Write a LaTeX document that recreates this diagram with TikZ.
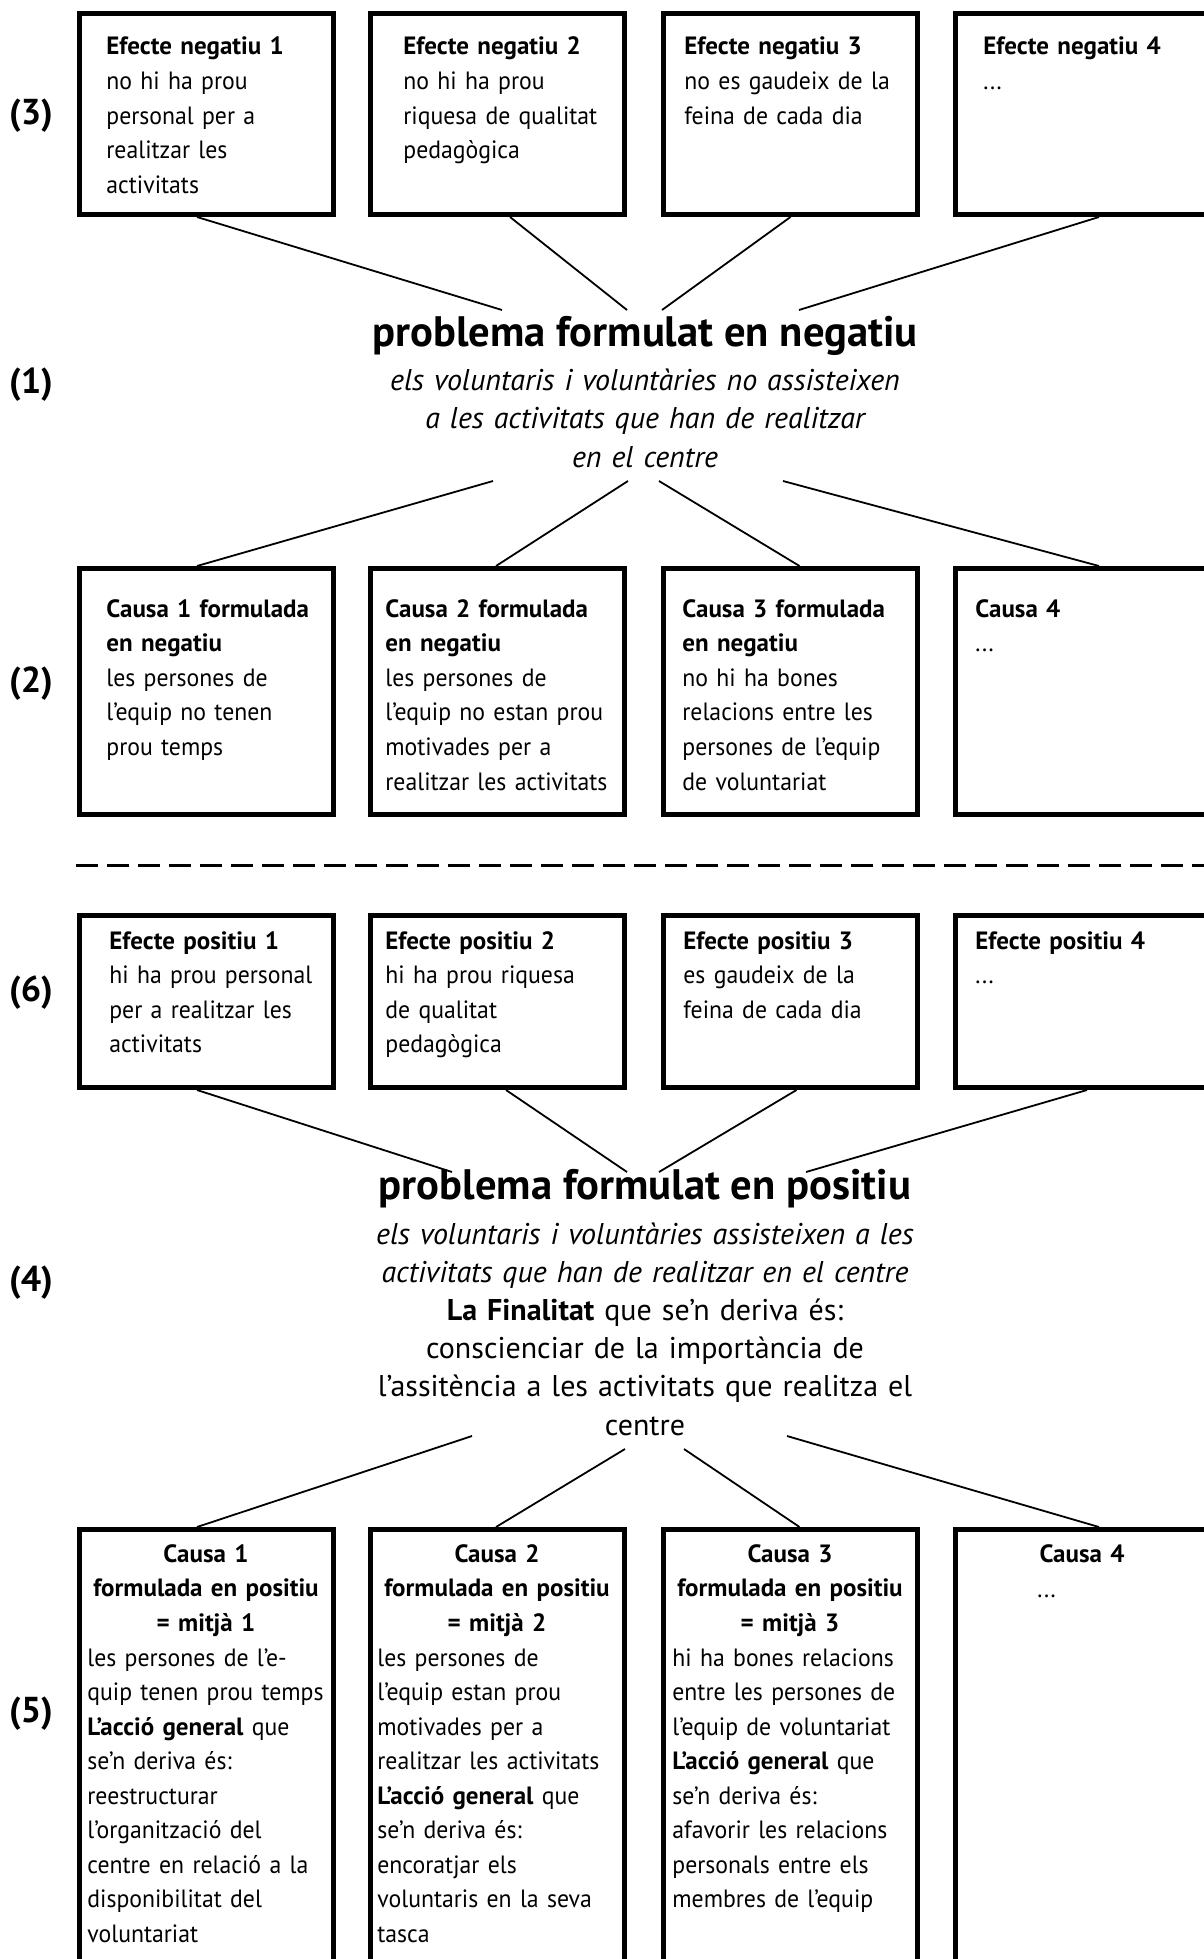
\documentclass[tikz,border=0pt]{standalone}
\usepackage{fontspec}
\setmainfont{PT Sans}
\newfontfamily\boxfont{PT Sans}[UprightFeatures={FakeStretch=0.95}]
\usetikzlibrary{positioning}

\begin{document}
\begin{tikzpicture}[x=0.5pt,y=-0.5pt,
  box/.style={draw,line width=2.5pt,anchor=north west,inner sep=0pt,minimum width=127pt},
  txt/.style={anchor=base west,inner sep=0pt,align=left,text width=150pt,font=\boxfont\fontsize{12.5}{17.3}\selectfont},
  head/.style={anchor=base,inner sep=0pt,align=center,text width=124pt,font=\boxfont\fontsize{12.5}{17.25}\selectfont\bfseries},
  num/.style={font=\fontsize{18}{21}\selectfont\bfseries},
  title/.style={anchor=base,inner sep=0pt,font=\fontsize{21.3}{25}\selectfont\bfseries},
  desc/.style={anchor=base,inner sep=0pt,align=center,text width=300pt,font=\fontsize{15}{19.3}\selectfont},
  link/.style={line width=0.9pt},
  dashline/.style={line width=1.5pt,dash pattern=on 11pt off 4.5pt}]

\clip (0,0) rectangle (1204,1959);
\fill[white] (0,0) rectangle (1204,1959);

% row labels
\node[num] (n3) at (31,116)  {(3)};
\node[num] (n1) at (31,385)  {(1)};
\node[num] (n2) at (31,684)  {(2)};
\node[num] (n6) at (31,993)  {(6)};
\node[num] (n4) at (31,1283) {(4)};
\node[num] (n5) at (31,1714) {(5)};

% negative effects
\node[box,minimum height=100.5pt] (e1) at (77,11)  {};
\node[box,minimum height=100.5pt] (e2) at (368,11) {};
\node[box,minimum height=100.5pt] (e3) at (661,11) {};
\node[box,minimum height=100.5pt] (e4) at (953,11) {};
\node[txt] (e1t) at (106,55) {\textbf{Efecte negatiu 1}\\no hi ha prou\\personal per a\\realitzar les\\activitats};
\node[txt] (e2t) at (403,55) {\textbf{Efecte negatiu 2}\\no hi ha prou\\riquesa de qualitat\\pedagògica};
\node[txt] (e3t) at (684,55) {\textbf{Efecte negatiu 3}\\no es gaudeix de la\\feina de cada dia};
\node[txt] (e4t) at (983,55) {\textbf{Efecte negatiu 4}\\...};

% negative problem
\node[title] (pneg) at (645,346) {problema formulat en negatiu};
\node[desc]  (dneg) at (645,390) {\itshape els voluntaris i voluntàries no assisteixen\\a les activitats que han de realitzar\\en el centre};

% negative causes
\node[box,minimum height=123pt] (c1) at (77,566)  {};
\node[box,minimum height=123pt] (c2) at (368,566) {};
\node[box,minimum height=123pt] (c3) at (661,566) {};
\node[box,minimum height=123pt] (c4) at (953,566) {};
\node[txt] (c1t) at (106,617) {\textbf{Causa 1 formulada}\\\textbf{en negatiu}\\les persones de\\l’equip no tenen\\prou temps};
\node[txt] (c2t) at (385,617) {\textbf{Causa 2 formulada}\\\textbf{en negatiu}\\les persones de\\l’equip no estan prou\\motivades per a\\realitzar les activitats};
\node[txt] (c3t) at (682,617) {\textbf{Causa 3 formulada}\\\textbf{en negatiu}\\no hi ha bones\\relacions entre les\\persones de l’equip\\de voluntariat};
\node[txt] (c4t) at (975,617) {\textbf{Causa 4}\\...};

\coordinate (nt1) at (502,310);
\coordinate (nt2) at (627,310);
\coordinate (nt3) at (662,310);
\coordinate (nt4) at (799,310);
\coordinate (nb1) at (493,481);
\coordinate (nb2) at (628,481);
\coordinate (nb3) at (659,481);
\coordinate (nb4) at (783,481);

\draw[link] ([xshift=-4.75pt]e1.south) -- (nt1);
\draw[link] ([xshift=6.25pt]e2.south)  -- (nt2);
\draw[link] (e3.south)                 -- (nt3);
\draw[link] ([xshift=8.25pt]e4.south)  -- (nt4);
\draw[link] (nb1) -- ([xshift=-4.75pt]c1.north);
\draw[link] (nb2) -- ([xshift=-0.75pt]c2.north);
\draw[link] (nb3) -- ([xshift=4.5pt]c3.north);
\draw[link] (nb4) -- ([xshift=8.25pt]c4.north);

% separator
\coordinate (sepl) at (76,865);
\coordinate (sepr) at (1210,865);
\draw[dashline] (sepl) -- (sepr);

% positive effects
\node[box,minimum height=86pt] (p1) at (77,913)  {};
\node[box,minimum height=86pt] (p2) at (368,913) {};
\node[box,minimum height=86pt] (p3) at (661,913) {};
\node[box,minimum height=86pt] (p4) at (953,913) {};
\node[txt] (p1t) at (109,949) {\textbf{Efecte positiu 1}\\hi ha prou personal\\per a realitzar les\\activitats};
\node[txt] (p2t) at (385,949) {\textbf{Efecte positiu 2}\\hi ha prou riquesa\\de qualitat\\pedagògica};
\node[txt] (p3t) at (683,949) {\textbf{Efecte positiu 3}\\es gaudeix de la\\feina de cada dia};
\node[txt] (p4t) at (975,949) {\textbf{Efecte positiu 4}\\...};

% positive problem
\node[title] (ppos) at (645,1199) {problema formulat en positiu};
\node[desc,font=\fontsize{15}{19.1}\selectfont] (dpos) at (645,1244)
  {{\itshape els voluntaris i voluntàries assisteixen a les\\activitats que han de realitzar en el centre}\\
   \textbf{La Finalitat} que se’n deriva és:\\conscienciar de la importància de\\l’assitència a les activitats que realitza el\\centre};

% means
\node[box,minimum height=225pt] (m1) at (77,1527)  {};
\node[box,minimum height=225pt] (m2) at (368,1527) {};
\node[box,minimum height=225pt] (m3) at (661,1527) {};
\node[box,minimum height=225pt] (m4) at (953,1527) {};
\node[head] (m1h) at (206,1562)  {Causa 1\\formulada en positiu\\= mitjà 1};
\node[head] (m2h) at (497,1562)  {Causa 2\\formulada en positiu\\= mitjà 2};
\node[head] (m3h) at (790,1562)  {Causa 3\\formulada en positiu\\= mitjà 3};
\node[head] (m4h) at (1082,1562) {Causa 4};
\node[txt,font=\boxfont\fontsize{12.5}{17.25}\selectfont] (m1t) at (87,1666)
  {les persones de l’e-\\quip tenen prou temps\\\textbf{L’acció general} que\\se’n deriva és:\\reestructurar\\l’organització del\\centre en relació a la\\disponibilitat del\\voluntariat};
\node[txt,font=\boxfont\fontsize{12.5}{17.25}\selectfont] (m2t) at (377,1666)
  {les persones de\\l’equip estan prou\\motivades per a\\realitzar les activitats\\\textbf{L’acció general} que\\se’n deriva és:\\encoratjar els\\voluntaris en la seva\\tasca};
\node[txt,font=\boxfont\fontsize{12.5}{17.25}\selectfont] (m3t) at (672,1666)
  {hi ha bones relacions\\entre les persones de\\l’equip de voluntariat\\\textbf{L’acció general} que\\se’n deriva és:\\afavorir les relacions\\personals entre els\\membres de l’equip};
\node[txt] (m4t) at (1037,1597) {...};

\coordinate (pt1) at (452,1172);
\coordinate (pt2) at (627,1172);
\coordinate (pt3) at (659,1172);
\coordinate (pt4) at (806,1172);
\coordinate (pb1) at (472,1436);
\coordinate (pb2) at (625,1449);
\coordinate (pb3) at (684,1449);
\coordinate (pb4) at (787,1436);

\draw[link] ([xshift=-4.75pt]p1.south) -- (pt1);
\draw[link] ([xshift=4.25pt]p2.south)  -- (pt2);
\draw[link] ([xshift=3pt]p3.south)     -- (pt3);
\draw[link] ([xshift=2.25pt]p4.south)  -- (pt4);
\draw[link] (pb1) -- ([xshift=-4.75pt]m1.north);
\draw[link] (pb2) -- ([xshift=-0.75pt]m2.north);
\draw[link] (pb3) -- ([xshift=4.5pt]m3.north);
\draw[link] (pb4) -- ([xshift=8.25pt]m4.north);
\end{tikzpicture}
\end{document}
